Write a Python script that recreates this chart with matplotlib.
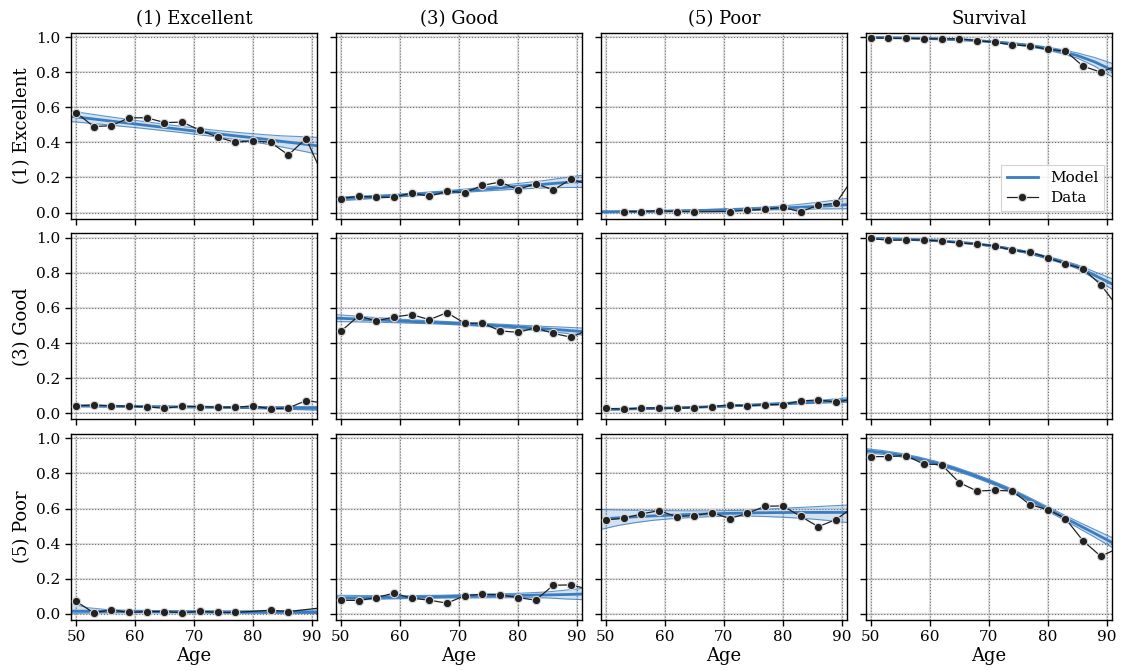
import numpy as np
import matplotlib
matplotlib.use("Agg")
import matplotlib.pyplot as plt

plt.rcParams['font.family'] = ['DejaVu Serif']

nan = np.nan
states = ["(1) Excellent", "(3) Good", "(5) Poor"]
columns = ["(1) Excellent", "(3) Good", "(5) Poor", "Survival"]
xticks = [50, 60, 70, 80, 90]
yticks = [0.0, 0.2, 0.4, 0.6, 0.8, 1.0]

ages = [50, 53, 56, 59, 62, 65, 68, 71, 74, 77, 80, 83, 86, 89, 92]
model_ages = [49, 52, 55, 58, 61, 64, 67, 70, 73, 76, 79, 82, 85, 88, 91]

# ---- row (1) Excellent ----
obs_E_E = [0.57, 0.49, 0.495, 0.54, 0.54, 0.513, 0.515, 0.47, 0.43, 0.40, 0.41, 0.40, 0.328, 0.422, 0.20]
mod_E_E = [0.549, 0.537, 0.525, 0.513, 0.501, 0.489, 0.477, 0.465, 0.453, 0.441, 0.43, 0.418, 0.405, 0.393, 0.38]
err_E_E = [0.03, 0.027, 0.024, 0.022, 0.02, 0.019, 0.018, 0.018, 0.018, 0.02, 0.022, 0.026, 0.032, 0.04, 0.048]

obs_E_G = [0.08, 0.093, 0.087, 0.087, 0.112, 0.093, 0.121, 0.114, 0.155, 0.174, 0.131, 0.165, 0.129, 0.19, 0.16]
mod_E_G = [0.077, 0.082, 0.088, 0.094, 0.10, 0.107, 0.114, 0.122, 0.13, 0.138, 0.147, 0.155, 0.163, 0.171, 0.178]
err_E_G = [0.012, 0.010, 0.009, 0.008, 0.008, 0.008, 0.008, 0.009, 0.01, 0.012, 0.015, 0.018, 0.022, 0.028, 0.035]

obs_E_P = [nan, 0.006, 0.006, 0.01, 0.006, 0.004, nan, 0.006, 0.013, 0.019, 0.03, 0.004, 0.042, 0.053, 0.2]
mod_E_P = [0.004, 0.005, 0.006, 0.007, 0.009, 0.011, 0.013, 0.015, 0.018, 0.021, 0.025, 0.029, 0.034, 0.039, 0.045]
errlo_E_P = [0.003, 0.003, 0.003, 0.003, 0.003, 0.004, 0.004, 0.004, 0.006, 0.007, 0.009, 0.011, 0.014, 0.018, 0.023]
errhi_E_P = [0.004, 0.003, 0.003, 0.003, 0.003, 0.003, 0.004, 0.006, 0.007, 0.009, 0.011, 0.015, 0.021, 0.028, 0.037]

obs_E_S = [0.996, 0.993, 0.993, 0.99, 0.99, 0.99, 0.98, 0.97, 0.955, 0.95, 0.93, 0.92, 0.834, 0.80, 0.84]
mod_E_S = [0.998, 0.997, 0.995, 0.993, 0.99, 0.986, 0.982, 0.975, 0.966, 0.955, 0.94, 0.92, 0.895, 0.858, 0.81]
err_E_S = [0.002, 0.002, 0.002, 0.002, 0.002, 0.003, 0.003, 0.004, 0.005, 0.006, 0.008, 0.011, 0.015, 0.025, 0.039]

# ---- row (3) Good ----
obs_G_E = [0.042, 0.047, 0.042, 0.04, 0.036, 0.028, 0.04, 0.038, 0.034, 0.034, 0.042, 0.025, 0.03, 0.072, 0.058]
mod_G_E = [0.042, 0.041, 0.04, 0.039, 0.038, 0.037, 0.036, 0.035, 0.034, 0.033, 0.032, 0.031, 0.03, 0.029, 0.028]
err_G_E = [0.005, 0.004, 0.004, 0.003, 0.003, 0.003, 0.003, 0.003, 0.003, 0.004, 0.005, 0.006, 0.007, 0.009, 0.011]

obs_G_G = [0.467, 0.554, 0.526, 0.548, 0.562, 0.533, 0.573, 0.512, 0.514, 0.469, 0.461, 0.486, 0.455, 0.433, 0.475]
mod_G_G = [0.542, 0.538, 0.533, 0.529, 0.524, 0.52, 0.516, 0.511, 0.505, 0.50, 0.494, 0.487, 0.48, 0.473, 0.465]
err_G_G = [0.02, 0.017, 0.014, 0.012, 0.01, 0.009, 0.008, 0.008, 0.008, 0.009, 0.01, 0.012, 0.014, 0.017, 0.02]

obs_G_P = [0.028, 0.023, 0.03, 0.03, 0.028, 0.032, 0.038, 0.047, 0.042, 0.049, 0.049, 0.07, 0.076, 0.063, 0.08]
mod_G_P = [0.021, 0.023, 0.025, 0.027, 0.03, 0.033, 0.036, 0.04, 0.044, 0.048, 0.053, 0.058, 0.063, 0.069, 0.075]
err_G_P = [0.003, 0.003, 0.003, 0.003, 0.003, 0.003, 0.003, 0.004, 0.004, 0.005, 0.005, 0.006, 0.007, 0.01, 0.013]

obs_G_S = [0.996, 0.985, 0.987, 0.987, 0.981, 0.97, 0.964, 0.954, 0.928, 0.918, 0.886, 0.852, 0.822, 0.732, 0.6]
mod_G_S = [0.997, 0.995, 0.992, 0.988, 0.983, 0.976, 0.968, 0.956, 0.94, 0.92, 0.895, 0.867, 0.835, 0.785, 0.735]
err_G_S = [0.001, 0.001, 0.002, 0.002, 0.003, 0.003, 0.004, 0.004, 0.005, 0.006, 0.007, 0.009, 0.011, 0.02, 0.03]

# ---- row (5) Poor ----
obs_P_E = [0.072, 0.006, 0.023, 0.008, 0.013, 0.013, 0.006, 0.015, 0.008, 0.008, nan, 0.021, 0.013, nan, 0.036]
mod_P_E = [0.016, 0.015, 0.014, 0.013, 0.013, 0.012, 0.012, 0.011, 0.011, 0.01, 0.01, 0.01, 0.01, 0.009, 0.009]
errlo_P_E = [0.012, 0.01, 0.008, 0.006, 0.006, 0.005, 0.005, 0.004, 0.005, 0.004, 0.005, 0.005, 0.006, 0.005, 0.006]
errhi_P_E = [0.044, 0.02, 0.011, 0.008, 0.007, 0.007, 0.006, 0.006, 0.006, 0.007, 0.007, 0.007, 0.008, 0.011, 0.013]

obs_P_G = [0.078, 0.076, 0.093, 0.118, 0.089, 0.078, 0.061, 0.104, 0.112, 0.108, 0.093, 0.078, 0.163, 0.165, 0.14]
mod_P_G = [0.091, 0.092, 0.093, 0.094, 0.095, 0.097, 0.098, 0.10, 0.101, 0.103, 0.104, 0.106, 0.108, 0.11, 0.113]
err_P_G = [0.015, 0.013, 0.011, 0.009, 0.008, 0.008, 0.008, 0.009, 0.01, 0.011, 0.012, 0.014, 0.017, 0.025, 0.032]

obs_P_P = [0.535, 0.545, 0.569, 0.588, 0.554, 0.56, 0.577, 0.543, 0.573, 0.613, 0.615, 0.556, 0.497, 0.537, 0.61]
mod_P_P = [0.54, 0.547, 0.553, 0.558, 0.562, 0.566, 0.569, 0.572, 0.574, 0.576, 0.577, 0.578, 0.578, 0.578, 0.578]
errlo_P_P = [0.06, 0.044, 0.033, 0.025, 0.02, 0.018, 0.016, 0.016, 0.017, 0.02, 0.025, 0.031, 0.038, 0.047, 0.058]
errhi_P_P = [0.055, 0.045, 0.037, 0.031, 0.026, 0.021, 0.018, 0.016, 0.016, 0.018, 0.023, 0.027, 0.032, 0.037, 0.042]

obs_P_S = [0.896, 0.896, 0.902, 0.853, 0.851, 0.748, 0.70, 0.704, 0.70, 0.622, 0.594, 0.543, 0.416, 0.328, 0.375]
mod_P_S = [0.93, 0.92, 0.905, 0.885, 0.86, 0.83, 0.795, 0.757, 0.715, 0.667, 0.615, 0.563, 0.51, 0.458, 0.405]
err_P_S = [0.012, 0.011, 0.01, 0.01, 0.01, 0.01, 0.01, 0.01, 0.01, 0.011, 0.012, 0.014, 0.017, 0.022, 0.028]

panels = [
    [(obs_E_E, mod_E_E, err_E_E, err_E_E), (obs_E_G, mod_E_G, err_E_G, err_E_G),
     (obs_E_P, mod_E_P, errlo_E_P, errhi_E_P), (obs_E_S, mod_E_S, err_E_S, err_E_S)],
    [(obs_G_E, mod_G_E, err_G_E, err_G_E), (obs_G_G, mod_G_G, err_G_G, err_G_G),
     (obs_G_P, mod_G_P, err_G_P, err_G_P), (obs_G_S, mod_G_S, err_G_S, err_G_S)],
    [(obs_P_E, mod_P_E, errlo_P_E, errhi_P_E), (obs_P_G, mod_P_G, err_P_G, err_P_G),
     (obs_P_P, mod_P_P, errlo_P_P, errhi_P_P), (obs_P_S, mod_P_S, err_P_S, err_P_S)],
]

BLUE = '#3a7cbf'
DARK = '#222222'

fig, axes = plt.subplots(3, 4, figsize=(11.21, 6.71), dpi=100, sharex=True, sharey=True)
fig.subplots_adjust(left=0.0633, right=0.992, top=0.9513, bottom=0.076,
                    wspace=0.0755, hspace=0.0785)

ages_arr = np.array(ages, dtype=float)
for r in range(3):
    for c in range(4):
        ax = axes[r, c]
        obs, mod, elo, ehi = panels[r][c]
        obs = np.array(obs, dtype=float)
        mod = np.array(mod, dtype=float)
        lo = mod - np.array(elo)
        hi = mod + np.array(ehi)
        ok = ~np.isnan(obs)
        for yv in yticks:
            ax.axhline(yv, color='0.88', lw=1.6, zorder=0)
        for xv in xticks:
            ax.axvline(xv, color='0.88', lw=1.6, zorder=0)
        ax.grid(True, color='0.45', linestyle=':', linewidth=0.8, zorder=0.5)
        ax.set_axisbelow(True)

        ax.fill_between(model_ages, lo, hi, color=BLUE, alpha=0.22, lw=0, zorder=2)
        ax.plot(model_ages, lo, color=BLUE, lw=0.8, alpha=0.8, zorder=2.1)
        ax.plot(model_ages, hi, color=BLUE, lw=0.8, alpha=0.8, zorder=2.1)
        ax.plot(model_ages, mod, color=BLUE, lw=2.0, zorder=2.5, label='Model')
        ax.plot(ages_arr[ok], obs[ok], color=DARK, lw=0.9, marker='o', ms=6,
                mfc=DARK, mec='0.85', mew=0.8, zorder=3, label='Data')

        ax.set_xlim(49.15, 90.9)
        ax.set_ylim(-0.035, 1.025)
        ax.set_xticks(xticks)
        ax.set_yticks(yticks)
        ax.tick_params(direction='out', length=4, width=1, labelsize=11, color='black')
        for sp in ax.spines.values():
            sp.set_color('black')
            sp.set_linewidth(1.0)
        if r == 0:
            ax.set_title(columns[c], fontsize=13, pad=6)
        if c == 0:
            ax.set_ylabel(states[r], fontsize=13)
        if r == 2:
            ax.set_xlabel('Age', fontsize=13, labelpad=2)
        if r == 0 and c == 3:
            leg = ax.legend(loc='lower right', fontsize=11, fancybox=False,
                            edgecolor='0.8', framealpha=0.85, handlelength=2.0,
                            borderpad=0.4, labelspacing=0.4)
            leg.get_frame().set_linewidth(0.8)

fig.savefig('out.png', dpi=100)
